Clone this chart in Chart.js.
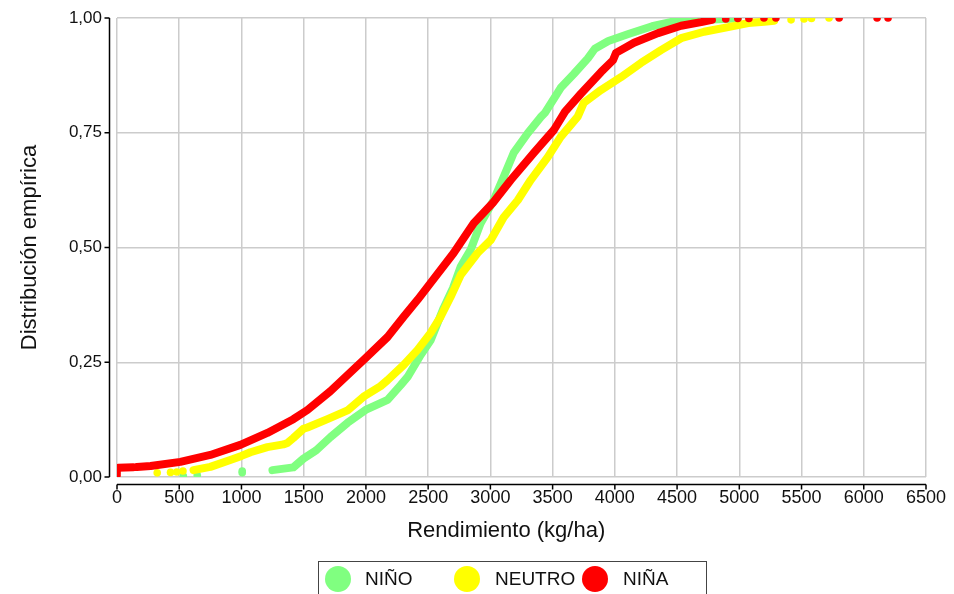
<!DOCTYPE html>
<html>
<head>
<meta charset="utf-8">
<script src="https://cdn.jsdelivr.net/npm/chart.js@4.4.1/dist/chart.umd.min.js"></script>
<style>
body { margin: 0; background: #fff; }
#wrap { position: relative; width: 954px; height: 594px; overflow: hidden; }
#legend { position: absolute; left: 318px; top: 561px; width: 389px; height: 50px; border: 1px solid #444; box-sizing: border-box;
  font-family: "Liberation Sans", Arial, sans-serif; font-size: 19px; color: #111; }
#legend .dot { position: absolute; top: 4px; width: 26px; height: 26px; border-radius: 50%; }
#legend .lbl { position: absolute; top: 6px; }
</style>
</head>
<body>
<div id="wrap">
<canvas id="myChart" width="954" height="594"></canvas>
<div id="legend"></div>
</div>
<script>
// series names and colours
var seriesNames = ['NIÑO', 'NEUTRO', 'NIÑA'];
var seriesColors = ['#80ff80', '#ffff00', '#ff0000'];

// NIÑO - continuous part (yield kg/ha, empirical distribution)
var ninoX = [1249, 1417, 1498, 1600, 1715, 1852, 1997, 2174, 2279, 2335, 2440, 2520, 2624, 2700, 2761, 2841, 2922, 3026, 3107, 3187, 3300, 3404, 3437, 3565, 3670, 3783, 3839, 3948, 4109, 4300, 4480, 4700, 4900, 4990];
var ninoY = [0.015, 0.021, 0.040, 0.058, 0.087, 0.118, 0.146, 0.168, 0.200, 0.218, 0.266, 0.298, 0.368, 0.412, 0.458, 0.495, 0.553, 0.603, 0.654, 0.706, 0.749, 0.784, 0.793, 0.848, 0.878, 0.912, 0.933, 0.950, 0.965, 0.982, 0.993, 0.996, 0.998, 1.0];
// NIÑO - isolated points
var ninoDotX = [533, 645, 1006, 1006];
var ninoDotY = [0.002, 0.004, 0.009, 0.013];

// NEUTRO
var neutroX = [615, 750, 910, 1000, 1072, 1208, 1337, 1369, 1417, 1498, 1530, 1691, 1852, 1981, 2118, 2174, 2303, 2415, 2520, 2600, 2680, 2761, 2897, 3002, 3107, 3220, 3324, 3461, 3565, 3702, 3750, 3888, 4049, 4210, 4371, 4532, 4717, 4910, 5071, 5200, 5280];
var neutroY = [0.015, 0.022, 0.037, 0.046, 0.054, 0.065, 0.071, 0.074, 0.085, 0.105, 0.108, 0.126, 0.145, 0.175, 0.198, 0.211, 0.244, 0.277, 0.314, 0.349, 0.392, 0.440, 0.488, 0.516, 0.566, 0.603, 0.647, 0.697, 0.741, 0.785, 0.815, 0.843, 0.871, 0.902, 0.930, 0.956, 0.970, 0.980, 0.989, 0.992, 0.994];
var neutroDotX = [323, 430, 480, 530, 5416, 5520, 5580, 5721];
var neutroDotY = [0.009, 0.010, 0.011, 0.013, 0.996, 0.998, 0.999, 1.0];

// NIÑA (null breaks the line)
var ninaX = [10, 130, null, 160, 270, 509, 750, 991, 1208, 1417, 1530, 1715, 1997, 2174, 2303, 2415, 2520, 2705, 2866, 3019, 3164, 3349, 3510, 3600, 3727, 3888, 3985, 4009, 4154, 4347, 4532, 4693, 4780];
var ninaY = [0.020, 0.021, null, 0.022, 0.024, 0.033, 0.048, 0.070, 0.096, 0.126, 0.146, 0.187, 0.259, 0.305, 0.349, 0.386, 0.423, 0.488, 0.553, 0.597, 0.647, 0.706, 0.756, 0.796, 0.835, 0.882, 0.908, 0.924, 0.946, 0.967, 0.983, 0.991, 0.996];
var ninaDotX = [0, 0, 0, 4891, 4988, 5077, 5198, 5294, 5802, 6107, 6195];
var ninaDotY = [0.004, 0.010, 0.016, 0.998, 0.999, 0.999, 1.0, 1.0, 1.0, 1.0, 1.0];

// axis ticks
var xTicks = [0, 500, 1000, 1500, 2000, 2500, 3000, 3500, 4000, 4500, 5000, 5500, 6000, 6500];
var yTicks = [0, 0.25, 0.5, 0.75, 1];

function pts(xs, ys) {
  return xs.map(function (v, i) { return { x: v, y: ys[i] }; });
}

function lineSet(xs, ys, color) {
  return { data: pts(xs, ys), showLine: true, borderColor: color, backgroundColor: color, borderWidth: 8,
    borderCapStyle: 'round', borderJoinStyle: 'round', pointRadius: 0, spanGaps: false };
}
function dotSet(xs, ys, color) {
  return { data: pts(xs, ys), showLine: false, borderColor: color, backgroundColor: color, pointRadius: 3.8, borderWidth: 0 };
}

var font = { family: '"Liberation Sans", Arial, sans-serif' };

// black offset axes like the original
var axisLines = {
  id: 'axisLines',
  afterDraw: function (chart) {
    var ctx = chart.ctx, x = chart.scales.x, y = chart.scales.y;
    var ax = chart.chartArea.left - 7.5, ay = chart.chartArea.bottom + 7.5;
    ctx.save();
    ctx.strokeStyle = '#000';
    ctx.lineWidth = 1.5;
    ctx.beginPath();
    ctx.moveTo(ax, y.getPixelForValue(1));
    ctx.lineTo(ax, y.getPixelForValue(0));
    yTicks.forEach(function (t) {
      var py = y.getPixelForValue(t);
      ctx.moveTo(ax - 5, py); ctx.lineTo(ax, py);
    });
    ctx.moveTo(x.getPixelForValue(0), ay);
    ctx.lineTo(x.getPixelForValue(6500), ay);
    xTicks.forEach(function (t) {
      var px = x.getPixelForValue(t);
      ctx.moveTo(px, ay); ctx.lineTo(px, ay + 5);
    });
    ctx.stroke();
    ctx.restore();
  }
};

new Chart('myChart', {
  type: 'scatter',
  data: {
    datasets: [
      lineSet(ninaX, ninaY, seriesColors[2]),
      dotSet(ninaDotX, ninaDotY, seriesColors[2]),
      lineSet(neutroX, neutroY, seriesColors[1]),
      dotSet(neutroDotX, neutroDotY, seriesColors[1]),
      lineSet(ninoX, ninoY, seriesColors[0]),
      dotSet(ninoDotX, ninoDotY, seriesColors[0])
    ]
  },
  options: {
    responsive: false,
    animation: false,
    layout: { padding: { top: 18, right: 28, bottom: 47, left: 0 } },
    plugins: { legend: { display: false }, tooltip: { enabled: false } },
    scales: {
      x: {
        min: 0, max: 6500,
        afterBuildTicks: function (s) { s.ticks = xTicks.map(function (v) { return { value: v }; }); },
        afterFit: function (s) { s.height = 70; },
        ticks: { color: '#111', padding: 0, maxRotation: 0, font: { family: font.family, size: 18 },
          callback: function (v) { return String(v); } },
        grid: { color: '#cccccc', lineWidth: 1.5, drawTicks: true, tickLength: 10, tickColor: 'rgba(0,0,0,0)' },
        border: { display: false },
        title: { display: true, text: 'Rendimiento (kg/ha)     ', color: '#111', padding: { top: 0, bottom: 3 }, font: { family: font.family, size: 22 } }
      },
      y: {
        min: 0, max: 1,
        afterBuildTicks: function (s) { s.ticks = yTicks.map(function (v) { return { value: v }; }); },
        afterFit: function (s) { s.width = 117; },
        ticks: { color: '#111', padding: 1, font: { family: font.family, size: 17 },
          callback: function (v) { return v.toFixed(2).replace('.', ','); } },
        grid: { color: '#cccccc', lineWidth: 1.5, drawTicks: true, tickLength: 14, tickColor: 'rgba(0,0,0,0)' },
        border: { display: false },
        title: { display: true, text: 'Distribución empírica', color: '#111', padding: { top: 17, bottom: 0 }, font: { family: font.family, size: 22 } }
      }
    }
  },
  plugins: [axisLines]
});

// legend box
var legend = document.getElementById('legend');
var dotLeft = [6, 135, 263];
var lblLeft = [46, 176, 304];
seriesNames.forEach(function (n, i) {
  var d = document.createElement('div');
  d.className = 'dot'; d.style.left = dotLeft[i] + 'px'; d.style.background = seriesColors[i];
  legend.appendChild(d);
  var l = document.createElement('div');
  l.className = 'lbl'; l.style.left = lblLeft[i] + 'px'; l.textContent = n;
  legend.appendChild(l);
});
</script>
</body>
</html>
